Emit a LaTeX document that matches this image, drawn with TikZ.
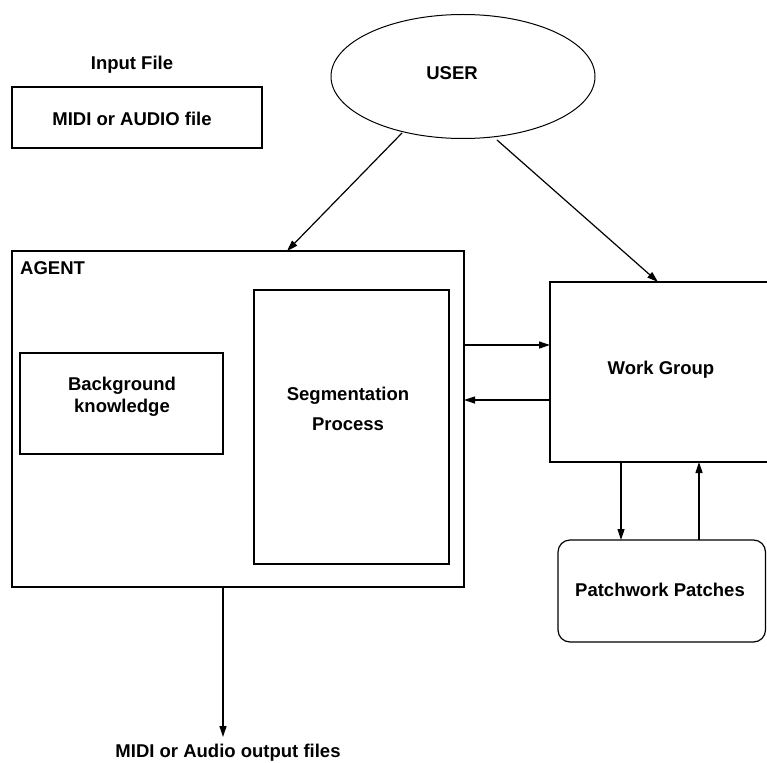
\documentclass[tikz,border=0pt]{standalone}
\usepackage{fontspec}
\setmainfont{Liberation Sans}
\usetikzlibrary{arrows.meta,calc,shapes.geometric}
\begin{document}
\begin{tikzpicture}[x=1pt,y=-1pt,
  box/.style={draw,line width=1.2pt,inner sep=0pt,outer sep=0pt,anchor=north west},
  lbl/.style={font=\fontsize{18.5}{22}\selectfont\bfseries,align=center,inner sep=0pt},
  arr/.style={line width=1.2pt,-{Triangle[length=11pt,width=7pt]}}]
\useasboundingbox (0,0) rectangle (767,762);

% input file
\node[lbl] (inT) at (132,65) {Input File};
\node[box,minimum width=250pt,minimum height=61pt] (midi) at (12,87) {};
\node[lbl] (midiT) at (132,119) {MIDI or AUDIO file};

% user
\node[draw,ellipse,line width=1pt,minimum width=264pt,minimum height=124pt,inner sep=0pt,outer sep=0pt] (user) at (463,76.5) {};
\node[lbl] (userT) at (452,73) {USER};

% agent
\node[box,minimum width=452pt,minimum height=336pt] (agent) at (12,251) {};
\node[lbl,anchor=west] (agentT) at (20,268) {AGENT};
\node[box,minimum width=203pt,minimum height=101pt] (bg) at (20,353) {};
\node[lbl] (bgT) at (122,397) {Background\\knowledge};
\node[box,minimum width=195pt,minimum height=274pt] (seg) at (254,290) {};
\node[lbl,font=\fontsize{18.5}{30}\selectfont\bfseries] (segT) at (348,409) {Segmentation\\Process};

% work group
\node[box,minimum width=222pt,minimum height=180pt] (wg) at (550,282) {};
\node[lbl] (wgT) at (661,370) {Work Group};

% patchwork
\node[box,rounded corners=12pt,minimum width=207.5pt,minimum height=102pt] (pw) at (558,540) {};
\node[lbl] (pwT) at (660,590) {Patchwork Patches};

% output
\node[lbl] (outT) at (228,753) {MIDI or Audio output files};
\coordinate (outtip) at (223,737);

% connectors
\coordinate (uA) at (402,133);
\coordinate (uB) at (497,140);
\draw[arr] (uA) -- ($(agent.north west)+(275,0)$);
\draw[arr] (uB) -- ($(wg.north west)+(108,0)$);
\draw[arr] (agent.east |- 0,345) -- (wg.west |- 0,345);
\draw[arr] (wg.west |- 0,400) -- (agent.east |- 0,400);
\draw[arr] (wg.south -| 621,0) -- (pw.north -| 621,0);
\draw[arr] (pw.north -| 699,0) -- (wg.south -| 699,0);
\draw[arr] (agent.south -| 223,0) -- (outtip);
\end{tikzpicture}
\end{document}
